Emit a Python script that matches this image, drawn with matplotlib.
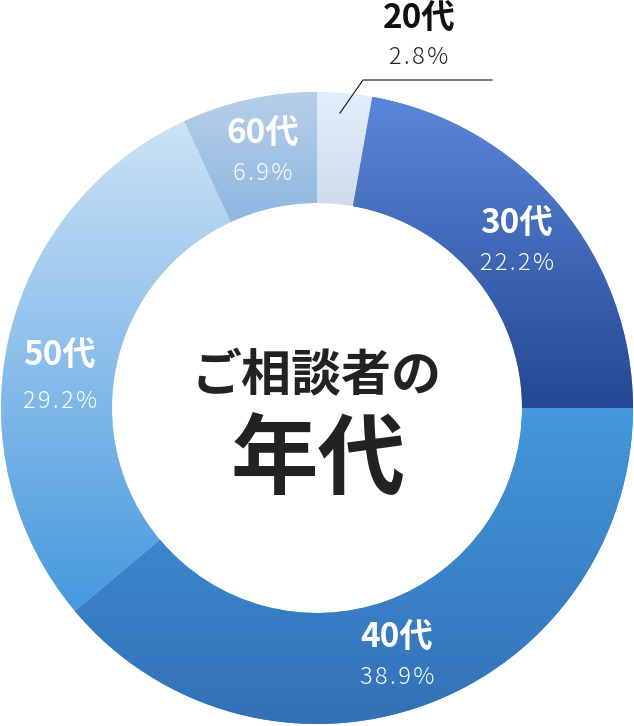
import matplotlib.pyplot as plt
import numpy as np
from matplotlib.colors import LinearSegmentedColormap

plt.rcParams['font.family'] = ['Noto Sans CJK JP', 'DejaVu Sans']

labels = ['20代', '30代', '40代', '50代', '60代']
values = [2.8, 22.2, 38.9, 29.2, 6.9]
pct_text = ['2.8%', '22.2%', '38.9%', '29.2%', '6.9%']
# gradient colours per slice: (top, bottom)
grad = [('#e2eefb', '#cfdcec'),
        ('#5b87da', '#244893'),
        ('#4498db', '#3270b7'),
        ('#cce2f6', '#4699de'),
        ('#b7cfe8', '#8db7e1')]

W, H = 634, 726
cx, cy = 317, H - 408
R, ring = 316, 111

fig = plt.figure(figsize=(W / 100, H / 100), dpi=100)
ax = fig.add_axes([0, 0, 1, 1])

wedges, _ = ax.pie(values, center=(cx, cy), radius=R, startangle=90,
                   counterclock=False, colors=[g[0] for g in grad],
                   wedgeprops=dict(width=ring, linewidth=0))

for w, (top, bot) in zip(wedges, grad):
    bb = w.get_path().get_extents()
    cmap = LinearSegmentedColormap.from_list('g', [bot, top])
    img = ax.imshow(np.linspace(0, 1, 256).reshape(-1, 1), cmap=cmap,
                    extent=(bb.x0, bb.x1, bb.y0, bb.y1), origin='lower',
                    aspect='auto', zorder=w.get_zorder() + 0.1)
    img.set_clip_path(w)

# label positions in pixels (x, y from top)
lab_pos = [(419, 18), (517, 223), (397, 637), (60, 355), (263, 133)]
pct_pos = [(419, 58), (517, 264), (397, 678), (60, 401), (263, 174)]
for i in range(len(labels)):
    col = '#111111' if i == 0 else 'white'
    ax.text(lab_pos[i][0], H - lab_pos[i][1], labels[i], color=col,
            fontsize=24, fontweight='bold', ha='center', va='center', zorder=5)
    ax.text(pct_pos[i][0], H - pct_pos[i][1], '\u200a'.join(pct_text[i]),
            color='#222222' if i == 0 else 'white',
            fontsize=17, fontweight='light', ha='center', va='center', zorder=5)

# leader line for the small slice
ax.plot([340, 363, 492], [H - 113, H - 80, H - 80], color='#111111', lw=0.8, zorder=5)

ax.text(cx, H - 377, 'ご相談者の', fontsize=36, fontweight='bold',
        color='#222222', ha='center', va='center', zorder=5)
ax.text(cx + 1, H - 462, '年代', fontsize=63, fontweight='bold',
        color='#222222', ha='center', va='center', zorder=5)

ax.set_xlim(0, W)
ax.set_ylim(0, H)
ax.set_aspect('auto')
ax.axis('off')
fig.savefig('out.png', dpi=100)
